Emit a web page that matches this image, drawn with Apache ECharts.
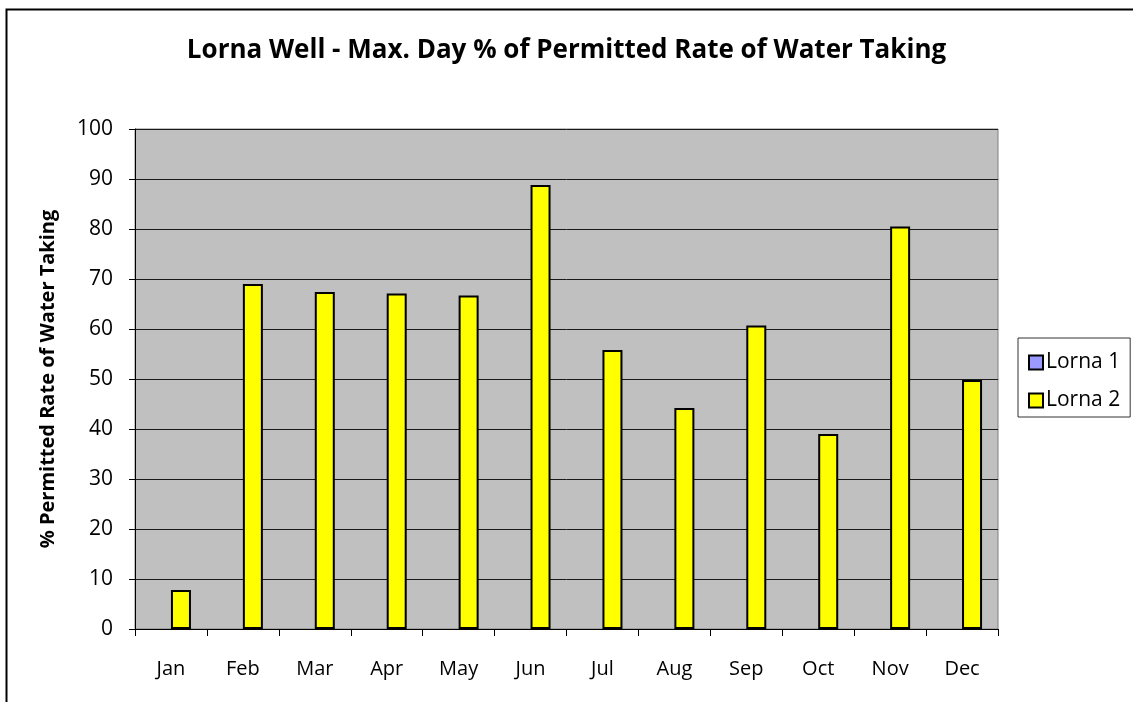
<!DOCTYPE html>
<html>
<head>
<meta charset="utf-8">
<script src="https://cdn.jsdelivr.net/npm/echarts@6/dist/echarts.min.js"></script>
<style>html,body{margin:0;padding:0;background:#fff}#c{width:1133px;height:702px}</style>
</head>
<body>
<div id="c"></div>
<script>
const categories = ['Jan','Feb','Mar','Apr','May','Jun','Jul','Aug','Sep','Oct','Nov','Dec'];
const lorna1 = [null,null,null,null,null,null,null,null,null,null,null,null];
const lorna2 = [7.8,69,67.4,67.1,66.7,88.8,55.8,44.2,60.7,39,80.5,49.8];
const yTicks = {min:0, max:100, interval:10};

const font = "'Open Sans', 'Noto Sans', sans-serif";
const chart = echarts.init(document.getElementById('c'), null, {renderer:'canvas'});
chart.setOption({
  animation:false,
  backgroundColor:'#fff',
  title:{
    text:'Lorna Well - Max. Day % of Permitted Rate of Water Taking',
    left:'center', top:33,
    textStyle:{fontFamily:font, fontWeight:'bold', fontSize:26, color:'#000'}
  },
  legend:{
    orient:'vertical', left:1018, top:338,
    backgroundColor:'#fff', borderColor:'#333', borderWidth:1,
    padding:[14,10,6,10], itemGap:17, itemWidth:14, itemHeight:14,
    icon:'rect',
    textStyle:{fontFamily:font, fontSize:21, color:'#000', padding:[0,0,0,-2]},
    data:['Lorna 1','Lorna 2']
  },
  grid:{left:135, right:135, top:129, bottom:73, show:true, backgroundColor:'#C0C0C0', borderColor:'#808080', borderWidth:1},
  xAxis:{
    type:'category', data:categories, boundaryGap:true,
    axisLine:{lineStyle:{color:'#000', width:1}},
    axisTick:{show:true, length:7, lineStyle:{color:'#000'}, alignWithLabel:false},
    axisLabel:{fontFamily:font, fontSize:20, color:'#000', margin:30}
  },
  yAxis:{
    type:'value', min:yTicks.min, max:yTicks.max, interval:yTicks.interval,
    name:'% Permitted Rate of Water Taking', nameLocation:'middle', nameGap:77,
    nameTextStyle:{fontFamily:font, fontWeight:'bold', fontSize:20, color:'#000'},
    axisLine:{show:true, lineStyle:{color:'#000', width:1}},
    axisTick:{show:true, length:6, lineStyle:{color:'#000'}},
    axisLabel:{fontFamily:font, fontSize:21, color:'#000', margin:22},
    splitLine:{show:true, lineStyle:{color:'#1a1a1a', width:1}}
  },
  series:[
    {name:'Lorna 1', type:'bar', data:lorna1, barWidth:20, barGap:'0%',
     itemStyle:{color:'#9999FF', borderColor:'#000', borderWidth:2}},
    {name:'Lorna 2', type:'bar', data:lorna2, barWidth:20, barGap:'0%',
     itemStyle:{color:'#FFFF00', borderColor:'#000', borderWidth:2}}
  ],
  graphic:[
    {type:'rect', left:4, top:7, shape:{x:0,y:0,width:1140,height:720}, style:{fill:'none', stroke:'#000', lineWidth:2}, silent:true}
  ]
});
</script>
</body>
</html>
